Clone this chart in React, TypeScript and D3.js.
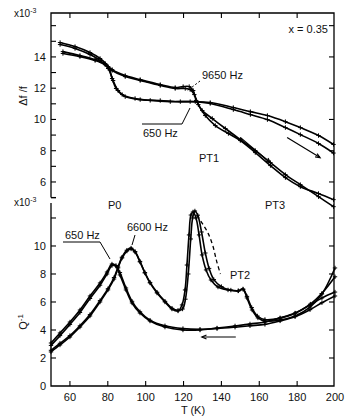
import * as d3 from "d3";

// temperature axis (K)
const xTicks = [60, 80, 100, 120, 140, 160, 180, 200];
const topTickLabels = [6, 8, 10, 12, 14];
const botTickLabels = [0, 2, 4, 6, 8, 10];

// upper panel: df/f (x10^-3)
const top650aT = [54.8, 62.7, 70.6, 75.9, 80.2, 82.3, 84.4, 87.6, 94.4, 102.4, 113, 123.5, 134.1, 146.3, 155.3, 164.3, 173.8, 181.7, 191.3, 199.2];
const top650aV = [14.92, 14.66, 14.28, 13.9, 13.38, 12.62, 11.98, 11.59, 11.34, 11.22, 11.14, 11.14, 11.08, 10.76, 10.5, 10.25, 9.86, 9.48, 8.97, 8.4];
const top650bT = [54.8, 62.7, 70.6, 75.9, 80.2, 82.8, 85.4, 89.2, 97.1, 107.7, 118.3, 126.2, 134.1, 146.3, 155.3, 164.3, 173.8, 181.7, 191.3, 199.2];
const top650bV = [14.79, 14.54, 14.15, 13.77, 13.26, 12.49, 11.85, 11.46, 11.27, 11.21, 11.14, 11.14, 11.02, 10.63, 10.31, 9.99, 9.48, 9.03, 8.46, 7.85];
const top9650aT = [56.3, 65.3, 73.3, 78.6, 82.3, 89.2, 97.1, 107.7, 115.6, 120.9, 123.5, 125.7, 127.8, 131.5, 136.8, 143.7, 150, 157.9, 165.9, 173.8, 181.7, 191.3, 199.2];
const top9650aV = [14.22, 14.02, 13.77, 13.5, 13.13, 12.74, 12.49, 12.17, 11.98, 11.98, 11.91, 11.59, 10.95, 10.25, 9.61, 9.1, 8.65, 7.88, 7.05, 6.28, 5.7, 5.26, 4.87];
const top9650bT = [56.3, 65.3, 73.3, 78.6, 82.3, 89.2, 97.1, 107.7, 115.6, 119.8, 123, 125.1, 126.7, 129.9, 135.2, 142.1, 150, 157.9, 165.9, 173.8, 181.7, 191.3, 199.2];
const top9650bV = [14.34, 14.09, 13.83, 13.58, 13.19, 12.81, 12.55, 12.23, 12.04, 12.1, 12.1, 11.85, 11.21, 10.57, 10.06, 9.42, 8.71, 8.01, 7.24, 6.47, 5.83, 5.06, 4.42];
const topArrowA = [[150, 8.84], [165.8, 7.24]];
const topArrowB = [[174.7, 8.84], [192.1, 7.56]];

// lower panel: Q^-1 (x10^-3)
const bot650T = [50, 54.75, 60, 65.3, 70.6, 75.9, 79.6, 82.2, 84.3, 86.4, 89.6, 92.8, 97, 102.3, 110.2, 119.7, 128.7, 137.7, 147.2, 155.1, 163, 171, 178.9, 186.8, 193.1, 200];
const bot650aV = [3.07, 3.79, 4.57, 5.43, 6.43, 7.36, 8.14, 8.71, 8.57, 7.93, 6.86, 5.93, 5.21, 4.64, 4.21, 4.0, 4.0, 4.14, 4.29, 4.43, 4.57, 4.86, 5.21, 5.79, 6.29, 6.71];
const bot650bV = [2.9, 3.6, 4.4, 5.25, 6.25, 7.2, 8.0, 8.6, 8.6, 8.1, 7.0, 6.05, 5.3, 4.7, 4.3, 4.1, 4.05, 4.1, 4.2, 4.3, 4.4, 4.65, 4.95, 5.45, 5.95, 6.43];
const bot6600aT = [50, 54.75, 60, 65.3, 70.6, 75.9, 80.1, 83.3, 85.4, 87.5, 90.1, 92.3, 94.4, 97, 99.6, 102.3, 106, 110.2, 113.9, 117.1, 119.2, 120.8, 121.8, 122.9, 123.9, 125, 126.6, 128.2, 129.8, 131.9, 134.5, 138.2, 143.5, 148.8, 151.4, 153.5, 156.2, 159.3, 163, 171, 178.9, 186.8, 193.1, 200];
const bot6600aV = [2.43, 2.93, 3.5, 4.21, 5.0, 6.0, 6.86, 7.64, 8.43, 9.14, 9.64, 9.79, 9.57, 8.86, 8.07, 7.36, 6.64, 6.0, 5.5, 5.36, 5.79, 6.86, 8.64, 10.79, 12.21, 12.43, 12.0, 10.79, 9.36, 8.29, 7.57, 7.07, 6.86, 6.79, 6.93, 6.29, 5.43, 4.86, 4.64, 4.71, 5.0, 5.64, 6.57, 8.43];
const bot6600bT = [50, 54.75, 60, 65.3, 70.6, 75.9, 80.1, 83.3, 85.4, 87.5, 90.1, 92.3, 94.4, 97, 99.6, 102.3, 106, 110.2, 113.9, 117.1, 119.5, 121, 122.5, 123.8, 124.8, 126, 127.5, 129.5, 131.5, 133.5, 136, 140, 145, 149, 151.5, 153.5, 156, 159, 163, 171, 179, 187, 193, 200];
const bot6600bV = [2.55, 3.05, 3.6, 4.3, 5.1, 6.1, 6.95, 7.75, 8.5, 9.2, 9.7, 9.85, 9.6, 8.9, 8.1, 7.4, 6.7, 6.05, 5.55, 5.4, 5.5, 6.2, 8.0, 10.5, 12.0, 12.5, 12.2, 11.0, 9.5, 8.4, 7.6, 7.1, 6.85, 6.8, 6.9, 6.4, 5.6, 5.0, 4.75, 4.85, 5.2, 5.85, 6.6, 7.8];
const botDashT = [127, 130, 133, 135.5, 137.5, 139.5];
const botDashV = [12.2, 11.6, 10.9, 10.0, 8.9, 8.0];
const botArrow = [[147.6, 3.5], [129.7, 3.5]];

const FONT = "'Liberation Sans', Arial, sans-serif";

const App = () => {
  const x = d3.scaleLinear().domain([50, 200]).range([51, 335]);
  const yTop = d3.scaleLinear().domain([5, 16.81]).range([197.6, 13]);
  const yBot = d3.scaleLinear().domain([0, 13.07]).range([386, 203]);

  const zip = (ts, vs) => ts.map((t, i) => [t, vs[i]]);
  const lineTop = d3.line().x((d) => x(d[0])).y((d) => yTop(d[1])).curve(d3.curveCatmullRom);
  const lineBot = d3.line().x((d) => x(d[0])).y((d) => yBot(d[1])).curve(d3.curveCatmullRom);

  const topCurves = [
    zip(top650aT, top650aV),
    zip(top650bT, top650bV),
    zip(top9650aT, top9650aV),
    zip(top9650bT, top9650bV),
  ];
  const botCurves = [
    zip(bot650T, bot650aV),
    zip(bot650T, bot650bV),
    zip(bot6600aT, bot6600aV),
    zip(bot6600bT, bot6600bV),
  ];

  const plus = (cx, cy, k) => (
    <path key={k} d={`M${cx - 2.2},${cy}H${cx + 2.2}M${cx},${cy - 2.2}V${cy + 2.2}`} stroke="#000" strokeWidth={1} />
  );

  const arrow = (pts, yS, k) => {
    const [a, b] = pts;
    const x1 = x(a[0]), y1 = yS(a[1]), x2 = x(b[0]), y2 = yS(b[1]);
    const ang = Math.atan2(y2 - y1, x2 - x1);
    const h = 5;
    const p1 = [x2 - h * Math.cos(ang - 0.4), y2 - h * Math.sin(ang - 0.4)];
    const p2 = [x2 - h * Math.cos(ang + 0.4), y2 - h * Math.sin(ang + 0.4)];
    return (
      <g key={k}>
        <line x1={x1} y1={y1} x2={x2} y2={y2} stroke="#000" strokeWidth={1.2} />
        <path d={`M${p1[0]},${p1[1]}L${x2},${y2}L${p2[0]},${p2[1]}`} fill="none" stroke="#000" strokeWidth={1.2} />
      </g>
    );
  };

  const txt = { fontFamily: FONT, fontSize: 11, fill: "#111" };

  return (
    <svg width={352} height={419} style={{ position: "absolute", left: 0, top: 0, background: "#fff" }}>
      <rect width={352} height={419} fill="#fff" />
      {/* frame */}
      <g stroke="#000" strokeWidth={1.3} fill="none">
        <path d={`M51,${yTop(5)}V13H334V386H51V203`} />
        <line x1={51} x2={56} y1={yTop(5)} y2={yTop(5)} />
      </g>
      {/* ticks */}
      <g stroke="#000" strokeWidth={1.1}>
        {d3.range(5, 16.5, 1).map((v) => (
          <line key={"lt" + v} x1={51} x2={56} y1={yTop(v)} y2={yTop(v)} />
        ))}
        {d3.range(6, 17, 2).map((v) => (
          <line key={"rt" + v} x1={334} x2={329} y1={yTop(v)} y2={yTop(v)} />
        ))}
        {d3.range(2, 13, 2).map((v) => (
          <line key={"lb" + v} x1={51} x2={56} y1={yBot(v)} y2={yBot(v)} />
        ))}
        {d3.range(2, 13, 2).map((v) => (
          <line key={"rb" + v} x1={334} x2={329} y1={yBot(v)} y2={yBot(v)} />
        ))}
        {xTicks.slice(0, -1).map((t) => (
          <g key={"xt" + t}>
            <line x1={x(t)} x2={x(t)} y1={13} y2={18} />
            <line x1={x(t)} x2={x(t)} y1={386} y2={381} />
          </g>
        ))}
      </g>
      {/* tick labels */}
      {topTickLabels.map((v) => (
        <text key={"tl" + v} x={46} y={yTop(v) + 4} textAnchor="end" style={txt}>{v}</text>
      ))}
      {botTickLabels.map((v) => (
        <text key={"bl" + v} x={46} y={yBot(v) + 4} textAnchor="end" style={txt}>{v}</text>
      ))}
      {xTicks.map((t) => (
        <text key={"xl" + t} x={x(t)} y={401} textAnchor="middle" style={txt}>{t}</text>
      ))}
      <text x={193} y={414} textAnchor="middle" style={txt}>T  (K)</text>
      <text x={14} y={17} style={{ ...txt, fontSize: 10 }}>x10<tspan dy={-4} fontSize={7}>-3</tspan></text>
      <text x={14} y={206} style={{ ...txt, fontSize: 10 }}>x10<tspan dy={-4} fontSize={7}>-3</tspan></text>
      <text transform="translate(27,96) rotate(-90)" textAnchor="middle" style={txt}>Δf /f</text>
      <text transform="translate(27,322) rotate(-90)" textAnchor="middle" style={txt}>Q<tspan dy={-4} fontSize={8}>-1</tspan></text>
      {/* data: upper panel */}
      <g fill="none" stroke="#000" strokeWidth={1.6}>
        {topCurves.map((c, i) => <path key={"tc" + i} d={lineTop(c)} />)}
        {botCurves.map((c, i) => <path key={"bc" + i} d={lineBot(c)} />)}
        <path d={lineBot(zip(botDashT, botDashV))} strokeDasharray="4,3" strokeWidth={1.3} />
      </g>
      <g>
        {topCurves.flatMap((c, i) => c.map((d, j) => plus(x(d[0]), yTop(d[1]), `tp${i}-${j}`)))}
        {botCurves.flatMap((c, i) => c.map((d, j) => plus(x(d[0]), yBot(d[1]), `bp${i}-${j}`)))}
      </g>
      {arrow(topArrowA, yTop, "aa")}
      {arrow(topArrowB, yTop, "ab")}
      {arrow(botArrow, yBot, "ba")}
      {/* annotations */}
      <text x={328} y={33} textAnchor="end" style={txt}>x = 0.35</text>
      <text x={202} y={79} style={txt}>9650 Hz</text>
      <path d="M200,81L187,91" stroke="#000" strokeWidth={1} strokeDasharray="2,2" fill="none" />
      <text x={143} y={137} style={txt}>650 Hz</text>
      <path d="M142,124H182L190,108" stroke="#000" strokeWidth={1} fill="none" />
      <text x={199} y={162} style={txt}>PT1</text>
      <text x={265} y={209} style={txt}>PT3</text>
      <text x={108} y={209} style={txt}>P0</text>
      <text x={65} y={239} style={txt}>650 Hz</text>
      <path d="M63,242H100L110,259" stroke="#000" strokeWidth={1} fill="none" />
      <text x={127} y={231} style={txt}>6600 Hz</text>
      <path d="M135,235L132,245" stroke="#000" strokeWidth={1} fill="none" />
      <text x={230} y={279} style={txt}>PT2</text>
    </svg>
  );
};

export default App;
